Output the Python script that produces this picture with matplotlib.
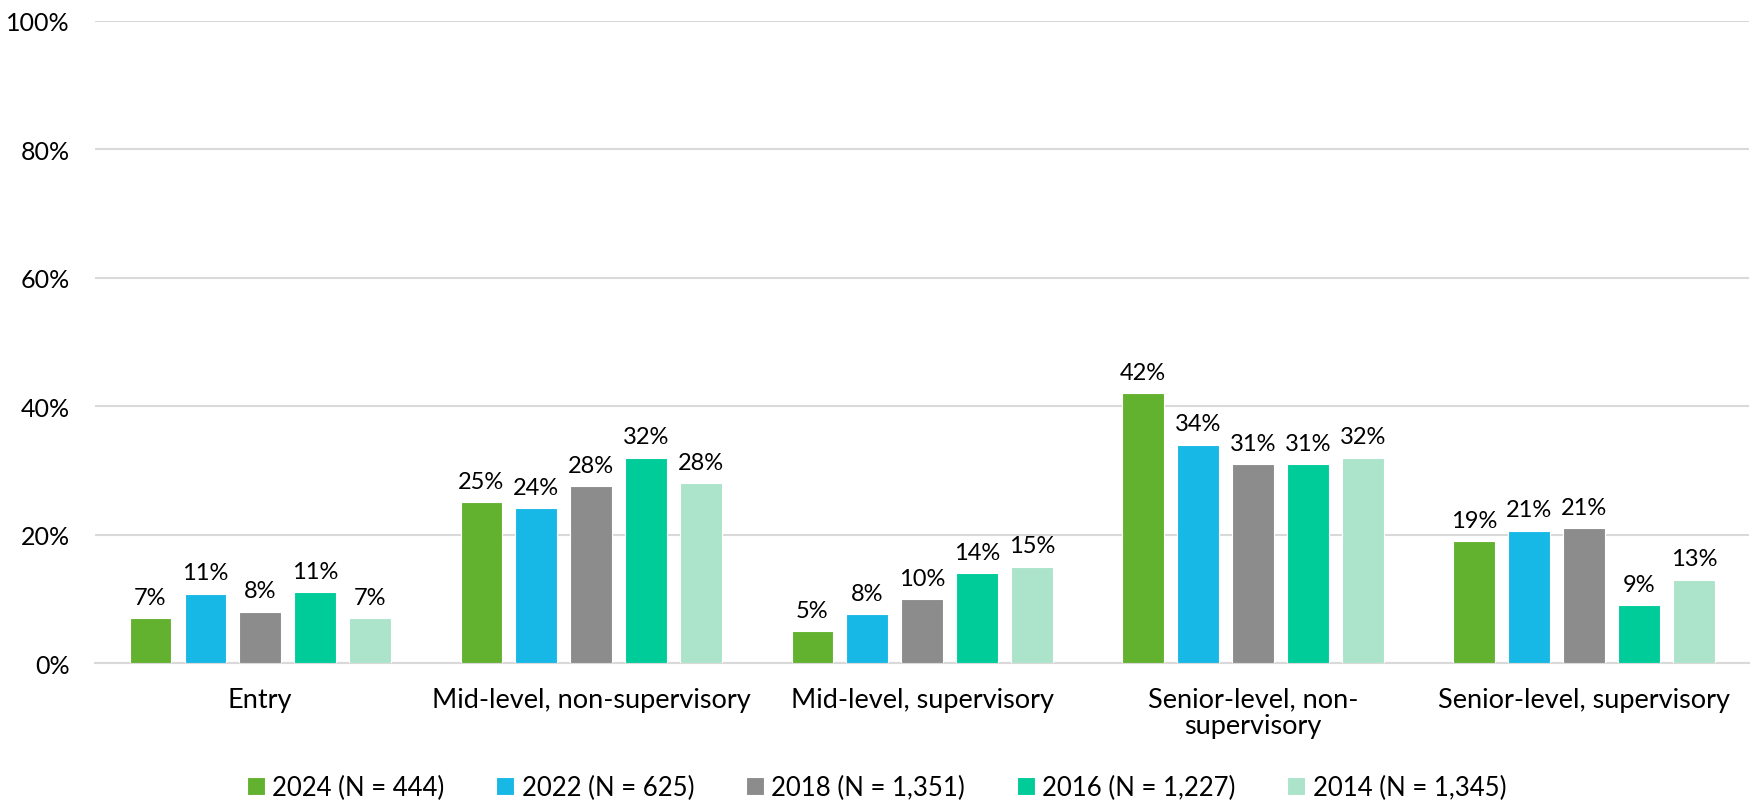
import numpy as np
import matplotlib
matplotlib.use("Agg")
import matplotlib.pyplot as plt

plt.rcParams['font.family'] = ['Lato', 'DejaVu Sans']

categories = ["Entry", "Mid-level, non-supervisory", "Mid-level, supervisory",
              "Senior-level, non-\nsupervisory", "Senior-level, supervisory"]
series = ["2024 (N = 444)", "2022 (N = 625)", "2018 (N = 1,351)",
          "2016 (N = 1,227)", "2014 (N = 1,345)"]
v2024 = [7, 25, 5, 42, 19]
v2022 = [10.8, 24.1, 7.6, 34, 20.6]
v2018 = [8, 27.6, 10, 31, 21]
v2016 = [11, 32, 14, 31, 9]
v2014 = [7, 28, 15, 32, 13]
colors = ["#63B22F", "#18B8E6", "#8C8C8C", "#00CC99", "#ACE3CB"]

values = [v2024, v2022, v2018, v2016, v2014]

fig = plt.figure(figsize=(17.53, 8.03), dpi=100)
ax = fig.add_axes([0.054, 0.173, 0.944, 0.80])

x = np.arange(len(categories))
width = 0.125
step = 0.166
for i, (vals, name, col) in enumerate(zip(values, series, colors)):
    pos = x + (i - 2) * step
    bars = ax.bar(pos, vals, width, color=col, label=name, edgecolor="white", linewidth=0.8, zorder=3)
    for b, v in zip(bars, vals):
        ax.text(b.get_x() + b.get_width() / 2, v + 1.6, f"{v:.0f}%", ha="center", va="bottom",
                fontsize=17, color="black")

ax.set_ylim(0, 100)
ax.set_xlim(-0.5, 4.5)
ax.set_yticks(range(0, 101, 20))
ax.set_yticklabels([f"{t}%" for t in range(0, 101, 20)], fontsize=18)
ax.set_xticks(x)
ax.set_xticklabels(categories, fontsize=19.5, linespacing=1.05)
ax.tick_params(axis="both", length=0)
ax.tick_params(axis="y", pad=18)
ax.tick_params(axis="x", pad=17)
ax.grid(axis="y", color="#D9D9D9", linewidth=1.5, zorder=0)
for s in ["top", "right", "left"]:
    ax.spines[s].set_visible(False)
ax.spines["bottom"].set_color("#D9D9D9")
ax.spines["bottom"].set_linewidth(1.5)

fig.legend(loc="center", bbox_to_anchor=(0.5, 0.018), ncol=5, frameon=False, fontsize=18.5,
           handlelength=0.7, handleheight=0.7, handletextpad=0.3, columnspacing=2.0)

fig.savefig("out.png", dpi=100)
